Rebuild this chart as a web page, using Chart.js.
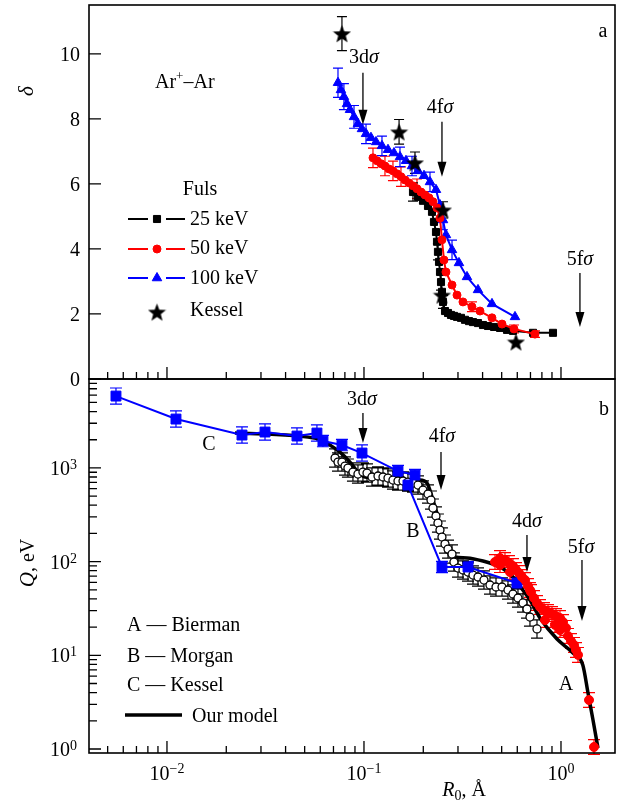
<!DOCTYPE html>
<html>
<head>
<meta charset="utf-8">
<title>Ar+–Ar</title>
<script src="https://cdn.jsdelivr.net/npm/chart.js@4.4.1/dist/chart.umd.min.js"></script>
<style>
  body { margin: 0; background: #fff; }
  #wrap { position: relative; width: 623px; height: 802px; }
  #wrap canvas { position: absolute; left: 0; top: 0; }
</style>
</head>
<body>
<div id="wrap">
  <canvas id="chartA" width="623" height="802"></canvas>
  <canvas id="chartB" width="623" height="802"></canvas>
</div>
<script>
// panel a: delta vs R0, Fuls at 25/50/100 keV and Kessel
const fuls100R = [0.0738, 0.0764, 0.0791, 0.0820, 0.0849, 0.0890, 0.0932, 0.0977, 0.1024, 0.1085, 0.1151, 0.1234, 0.1324, 0.1420, 0.1523, 0.1634, 0.1753, 0.1880, 0.2017, 0.2163, 0.2320, 0.2431, 0.2518, 0.2607, 0.2798, 0.3035, 0.3333, 0.3791, 0.4464, 0.5842];
const fuls100D = [9.11, 8.89, 8.68, 8.46, 8.28, 8.06, 7.85, 7.69, 7.54, 7.42, 7.29, 7.17, 7.05, 6.95, 6.83, 6.71, 6.55, 6.40, 6.25, 6.06, 5.82, 5.35, 4.89, 4.43, 3.97, 3.57, 3.14, 2.74, 2.31, 1.91];
const fuls100Err = [0.45, 0, 0.4, 0, 0, 0.35, 0, 0, 0.3, 0, 0, 0.3, 0, 0, 0.3, 0, 0.3, 0, 0, 0.3, 0, 0, 0.3, 0, 0.3, 0, 0, 0, 0, 0];

const fuls50R = [0.1111, 0.1164, 0.1220, 0.1278, 0.1339, 0.1403, 0.1470, 0.1541, 0.1615, 0.1692, 0.1773, 0.1858, 0.1947, 0.2040, 0.2138, 0.2240, 0.2347, 0.2431, 0.2488, 0.2547, 0.2607, 0.2798, 0.2966, 0.3180, 0.3533, 0.3880, 0.4464, 0.5019, 0.5773, 0.7379];
const fuls50D = [6.80, 6.71, 6.62, 6.55, 6.46, 6.40, 6.31, 6.22, 6.12, 6.03, 5.94, 5.85, 5.75, 5.66, 5.57, 5.45, 5.26, 4.95, 4.28, 3.66, 3.29, 2.89, 2.58, 2.37, 2.22, 2.09, 1.88, 1.69, 1.54, 1.38];
const fuls50Err = [0.3, 0, 0, 0.3, 0, 0.3, 0, 0.3, 0, 0, 0, 0.3, 0, 0, 0, 0, 0, 0, 0, 0, 0, 0, 0, 0, 0.15, 0, 0, 0, 0.12, 0.1];

const fuls25R = [0.1773, 0.1880, 0.1993, 0.2113, 0.2214, 0.2266, 0.2320, 0.2347, 0.2374, 0.2403, 0.2431, 0.2460, 0.2488, 0.2518, 0.2578, 0.2670, 0.2764, 0.2862, 0.2966, 0.3107, 0.3256, 0.3412, 0.3575, 0.3791, 0.4018, 0.4261, 0.4570, 0.4903, 0.5320, 0.5705, 0.7209, 0.9108];
const fuls25D = [5.75, 5.60, 5.48, 5.32, 5.14, 4.83, 4.52, 4.22, 3.91, 3.60, 3.29, 2.98, 2.68, 2.37, 2.09, 2.03, 1.97, 1.94, 1.91, 1.88, 1.82, 1.78, 1.75, 1.72, 1.66, 1.63, 1.60, 1.57, 1.51, 1.48, 1.42, 1.42];
const fuls25Err = [0.28, 0, 0, 0, 0, 0, 0, 0, 0.25, 0, 0, 0.25, 0, 0.2, 0, 0, 0, 0, 0, 0, 0, 0, 0, 0, 0, 0, 0, 0, 0, 0, 0, 0];

const kesselAR = [0.0773, 0.1507, 0.1815, 0.2518, 0.2488, 0.5910];
const kesselAD = [10.62, 7.60, 6.65, 5.20, 2.58, 1.14];
const kesselAErr = [0.52, 0.38, 0.33, 0.25, 0, 0];

// panel b: Q (eV) vs R0
const kesselBR = [0.00551, 0.01111, 0.02403, 0.03145, 0.0457, 0.0577, 0.0619, 0.0773, 0.0977, 0.1488, 0.1815];
const kesselBQ = [5850, 3325, 2245, 2417, 2190, 2357, 1937, 1755, 1442, 927, 840];
const morganR = [0.1672, 0.2488, 0.3373, 0.5979];
const morganQ = [657, 87.6, 87.6, 59.1];

const openR = [0.0713, 0.0738, 0.0773, 0.0801, 0.0829, 0.0879, 0.0932, 0.0988, 0.1036, 0.1098, 0.1178, 0.1249, 0.1324, 0.1403, 0.1488, 0.1578, 0.1672, 0.1773, 0.1880, 0.1993, 0.2113, 0.2188, 0.2240, 0.2320, 0.2374, 0.2431, 0.2488, 0.2578, 0.2670, 0.2798, 0.2862, 0.3000, 0.3180, 0.3373, 0.3575, 0.3791, 0.4065, 0.4360, 0.4679, 0.5019, 0.5383, 0.5705, 0.6049, 0.6413, 0.6719, 0.6958, 0.7554];
const openQ = [1276, 1156, 1156, 1048, 997, 904, 861, 904, 882, 800, 820, 800, 780, 743, 725, 725, 707, 690, 657, 581, 527, 454, 373, 307, 258, 217, 183, 154, 136, 120.5, 99, 85.4, 81.4, 77.4, 71.9, 68.5, 63.6, 56.3, 53.6, 53.6, 49.8, 45.1, 40.9, 36.2, 31.2, 25.6, 19.1];

const biermanR = [0.4624, 0.4903, 0.4903, 0.5196, 0.5445, 0.5509, 0.5705, 0.5910, 0.6121, 0.6339, 0.6568, 0.6802, 0.6958, 0.7044, 0.7295, 0.7554, 0.7824, 0.8199, 0.8295, 0.8592, 0.9001, 0.9322, 0.9432, 0.9884, 0.9884, 1.0238, 1.0602, 1.0851, 1.1240, 1.1641, 1.1917, 1.2200, 1.3877, 1.4710];
const biermanQ = [99, 109.2, 91.9, 104.0, 96.6, 77.4, 89.8, 81.4, 75.6, 68.5, 63.6, 54.9, 49.8, 47.4, 40.9, 36.2, 32.8, 30.4, 23.8, 29.0, 27.6, 21.1, 26.3, 25.0, 18.6, 22.7, 19.6, 16.1, 14.2, 12.9, 11.4, 10.1, 3.33, 1.05];

const modelR = [0.02214, 0.0598, 0.0672, 0.0755, 0.0849, 0.0932, 0.1012, 0.1206, 0.1470, 0.1924, 0.2088, 0.2240, 0.2374, 0.2518, 0.2670, 0.2897, 0.3333, 0.4018, 0.4516, 0.5019, 0.5705, 0.6339, 0.6958, 0.7824, 0.9543, 1.1505, 1.2905, 1.3716, 1.4538, 1.5406];
const modelQ = [2358, 2034, 1755, 1478, 1156, 904, 800, 780, 743, 743, 690, 454, 299, 183, 126.6, 112.0, 109.2, 101.5, 94.3, 85.4, 68.5, 51.0, 38.9, 25.0, 14.9, 10.6, 7.88, 3.96, 2.04, 1.025];

const kesselBErr = [0.22, 0.22, 0.22, 0.22, 0.22, 0.22, 0.15, 0.15, 0.22, 0.15, 0.15];
const morganErr = [0.15, 0.15, 0.15, 0.15];
const openErr = 0.25;
const biermanErr = 0.2;

const FONT = '"Liberation Serif", "Times New Roman", "DejaVu Serif", serif';
const RED = '#ff0000';
const BLUE = '#0000ff';

const pts = (xs, ys) => xs.map((x, i) => ({x, y: ys[i]}));
const font = (size, italic) => (italic ? 'italic ' : '') + size + 'px ' + FONT;

function makeStar(size) {
  const c = document.createElement('canvas');
  c.width = c.height = size;
  const g = c.getContext('2d');
  const R = size / 2, r = R * 0.42;
  g.beginPath();
  for (let i = 0; i < 10; i++) {
    const a = -Math.PI / 2 + i * Math.PI / 5;
    const rr = i % 2 ? r : R;
    g.lineTo(R + rr * Math.cos(a), R + 1 + rr * Math.sin(a));
  }
  g.closePath();
  g.fillStyle = '#000';
  g.fill();
  return c;
}
const starImg = makeStar(19);

function isNice(v) {
  if (v <= 0) return false;
  const m = v / Math.pow(10, Math.floor(Math.log10(v) + 1e-9));
  return Math.abs(m - Math.round(m)) < 1e-6;
}
function isPow10(v) {
  const l = Math.log10(v);
  return Math.abs(l - Math.round(l)) < 1e-6;
}

// parts: [text, size, italic, dy]
function textRun(ctx, x, y, parts, align) {
  let w = 0;
  parts.forEach(p => { ctx.font = font(p[1], p[2]); w += ctx.measureText(p[0]).width; });
  let cx = align === 'center' ? x - w / 2 : align === 'right' ? x - w : x;
  ctx.textAlign = 'left';
  ctx.textBaseline = 'alphabetic';
  ctx.fillStyle = '#000';
  parts.forEach(p => {
    ctx.font = font(p[1], p[2]);
    ctx.fillText(p[0], cx, y + (p[3] || 0));
    cx += ctx.measureText(p[0]).width;
  });
}

function arrow(ctx, x, y1, y2) {
  ctx.save();
  ctx.strokeStyle = '#000';
  ctx.fillStyle = '#000';
  ctx.lineWidth = 1.3;
  ctx.beginPath();
  ctx.moveTo(x, y1);
  ctx.lineTo(x, y2 - 10);
  ctx.stroke();
  ctx.beginPath();
  ctx.moveTo(x - 4.5, y2 - 15);
  ctx.lineTo(x + 4.5, y2 - 15);
  ctx.lineTo(x, y2);
  ctx.closePath();
  ctx.fill();
  ctx.restore();
}

function drawErrorBars(chart) {
  const ctx = chart.ctx, xs = chart.scales.x, ys = chart.scales.y;
  chart.data.datasets.forEach(ds => {
    if (ds.errors === undefined) return;
    ctx.save();
    ctx.strokeStyle = ds.errColor || ds.borderColor;
    ctx.lineWidth = 1.2;
    ctx.beginPath();
    ds.data.forEach((p, i) => {
      const e = typeof ds.errors === 'number' ? ds.errors : ds.errors[i];
      if (!e) return;
      const hi = ds.relErr ? p.y * (1 + e) : p.y + e;
      const lo = ds.relErr ? p.y / (1 + e) : p.y - e;
      const x = xs.getPixelForValue(p.x);
      const y1 = ys.getPixelForValue(hi), y2 = ys.getPixelForValue(lo);
      const c = ds.capHalf || 5;
      ctx.moveTo(x, y1); ctx.lineTo(x, y2);
      ctx.moveTo(x - c, y1); ctx.lineTo(x + c, y1);
      ctx.moveTo(x - c, y2); ctx.lineTo(x + c, y2);
    });
    ctx.stroke();
    ctx.restore();
  });
}

function drawFrame(chart, yLog) {
  const ctx = chart.ctx, a = chart.chartArea, xs = chart.scales.x, ys = chart.scales.y;
  ctx.save();
  ctx.strokeStyle = '#000';
  ctx.lineWidth = 1.6;
  ctx.strokeRect(a.left, a.top, a.right - a.left, a.bottom - a.top);
  ctx.lineWidth = 1.3;
  ctx.beginPath();
  xs.ticks.forEach(t => {
    if (!isNice(t.value)) return;
    const x = xs.getPixelForValue(t.value);
    if (x < a.left + 1 || x > a.right - 1) return;
    ctx.moveTo(x, a.bottom);
    ctx.lineTo(x, a.bottom - (isPow10(t.value) ? 12 : 7));
  });
  ys.ticks.forEach(t => {
    let len;
    if (yLog) {
      if (!isNice(t.value)) return;
      len = isPow10(t.value) ? 12 : 8;
    } else {
      if (t.value % 2 !== 0) return;
      len = 12;
    }
    const y = ys.getPixelForValue(t.value);
    if (y < a.top + 1 || y > a.bottom + 0.5) return;
    ctx.moveTo(a.left, y);
    ctx.lineTo(a.left + len, y);
  });
  ctx.stroke();
  ctx.restore();
}

function note(chart, n) {
  const xs = chart.scales.x, ys = chart.scales.y;
  if (n.text) textRun(chart.ctx, xs.getPixelForValue(n.x), ys.getPixelForValue(n.y), n.text, 'center');
  if (n.arrow) arrow(chart.ctx, xs.getPixelForValue(n.arrow[0]), ys.getPixelForValue(n.arrow[1]), ys.getPixelForValue(n.arrow[2]));
}

const sig = (a) => [[a, 20], ['σ', 20, true]];
const notesA = [
  {text: sig('3d'), x: 0.1, y: 9.72, arrow: [0.0988, 9.42, 7.82]},
  {text: sig('4f'), x: 0.2431, y: 8.18, arrow: [0.2488, 7.91, 6.22]},
  {text: sig('5f'), x: 1.248, y: 3.51, arrow: [1.248, 3.26, 1.60]}
];
const notesB = [
  {text: sig('3d'), x: 0.0977, y: 4690, arrow: [0.0988, 3855, 1844]},
  {text: sig('4f'), x: 0.2488, y: 1890, arrow: [0.2460, 1478, 581]},
  {text: sig('4d'), x: 0.6719, y: 234, arrow: [0.6719, 192, 77.4]},
  {text: sig('5f'), x: 1.264, y: 123.6, arrow: [1.278, 104, 23.2]},
  {text: [['C', 20]], x: 0.01634, y: 1553},
  {text: [['B', 20]], x: 0.1773, y: 183},
  {text: [['A', 20]], x: 1.0602, y: 4.26}
];

function legendMarker(ctx, style, color, x, y, radius) {
  ctx.fillStyle = color;
  ctx.strokeStyle = color;
  ctx.lineWidth = 1;
  Chart.helpers.drawPoint(ctx, {pointStyle: style, radius: radius, borderWidth: 1, rotation: 0}, x, y);
}

function decorateA(chart) {
  const ctx = chart.ctx, a = chart.chartArea, ys = chart.scales.y;
  ctx.save();
  ys.ticks.forEach(t => {
    if (t.value % 2 !== 0) return;
    textRun(ctx, a.left - 9, ys.getPixelForValue(t.value) + 7, [[String(t.value), 20]], 'right');
  });
  notesA.forEach(n => note(chart, n));
  textRun(ctx, 603, 37, [['a', 20]], 'center');
  textRun(ctx, 155, 88, [['Ar', 20], ['+', 13, false, -8], ['–Ar', 20]], 'left');

  ctx.translate(33, 91);
  ctx.rotate(-Math.PI / 2);
  textRun(ctx, 0, 0, [['δ', 21, true]], 'center');
  ctx.setTransform(1, 0, 0, 1, 0, 0);

  textRun(ctx, 200, 195, [['Fuls', 20]], 'center');
  [['25 keV', '#000', 'rect', 5, 219, 225], ['50 keV', RED, 'circle', 4, 249, 254], ['100 keV', BLUE, 'triangle', 5.5, 278, 284]].forEach(r => {
    ctx.strokeStyle = r[1];
    ctx.lineWidth = 2;
    ctx.beginPath();
    ctx.moveTo(128, r[4]); ctx.lineTo(148, r[4]);
    ctx.moveTo(166, r[4]); ctx.lineTo(185, r[4]);
    ctx.stroke();
    legendMarker(ctx, r[2], r[1], 157, r[4], r[3]);
    textRun(ctx, 190, r[5], [[r[0], 20]], 'left');
  });
  ctx.drawImage(starImg, 157 - 9.5, 312 - 9.5);
  textRun(ctx, 190, 316, [['Kessel', 20]], 'left');
  ctx.restore();
}

function decorateB(chart) {
  const ctx = chart.ctx, a = chart.chartArea, xs = chart.scales.x, ys = chart.scales.y;
  ctx.save();
  xs.ticks.forEach(t => {
    if (!isPow10(t.value)) return;
    const e = Math.round(Math.log10(t.value));
    textRun(ctx, xs.getPixelForValue(t.value), a.bottom + 27, [['10', 20], [e < 0 ? '−' + (-e) : String(e), 14, false, -7]], 'center');
  });
  ys.ticks.forEach(t => {
    if (!isPow10(t.value)) return;
    const e = Math.round(Math.log10(t.value));
    textRun(ctx, a.left - 12, ys.getPixelForValue(t.value) + 7, [['10', 20], [String(e), 14, false, -6]], 'right');
  });
  textRun(ctx, 464, 796, [['R', 20, true], ['0', 14, false, 4], [', Å', 20]], 'center');

  notesB.forEach(n => note(chart, n));
  textRun(ctx, 604, 415, [['b', 20]], 'center');

  ctx.translate(34, 563);
  ctx.rotate(-Math.PI / 2);
  textRun(ctx, 0, 0, [['Q', 21, true], [', eV', 20]], 'center');
  ctx.setTransform(1, 0, 0, 1, 0, 0);

  textRun(ctx, 127, 631, [['A — Bierman', 20]], 'left');
  textRun(ctx, 127, 662, [['B — Morgan', 20]], 'left');
  textRun(ctx, 127, 691, [['C — Kessel', 20]], 'left');
  ctx.strokeStyle = '#000';
  ctx.lineWidth = 3.5;
  ctx.beginPath();
  ctx.moveTo(125, 715); ctx.lineTo(182, 715);
  ctx.stroke();
  textRun(ctx, 192, 722, [['Our model', 20]], 'left');
  ctx.restore();
}

function decoPlugin(kind) {
  return {
    id: 'deco' + kind,
    beforeDatasetsDraw(chart) { drawErrorBars(chart); },
    afterDraw(chart) {
      drawFrame(chart, kind === 'b');
      if (kind === 'a') decorateA(chart); else decorateB(chart);
    }
  };
}

const xAxis = (height) => ({
  type: 'logarithmic',
  min: 0.00402,
  max: 1.88,
  ticks: {display: false},
  grid: {display: false, drawTicks: false},
  border: {display: false},
  afterFit: s => { s.height = height; s.paddingLeft = 0; s.paddingRight = 0; }
});

const yAxis = (type, min, max, ticks) => ({
  type: type,
  min: min,
  max: max,
  ticks: Object.assign({display: false}, ticks || {}),
  grid: {display: false, drawTicks: false},
  border: {display: false},
  afterFit: s => { s.width = 89; s.paddingTop = 0; s.paddingBottom = 0; }
});

new Chart(document.getElementById('chartA'), {
  type: 'scatter',
  data: {
    datasets: [
      {label: 'Kessel', data: pts(kesselAR, kesselAD), errors: kesselAErr, pointStyle: starImg, pointRadius: 9, borderColor: '#000', backgroundColor: '#000', order: 0},
      {label: '50 keV', data: pts(fuls50R, fuls50D), errors: fuls50Err, showLine: true, borderColor: RED, backgroundColor: RED, borderWidth: 2, pointStyle: 'circle', pointRadius: 4, pointBorderWidth: 1, order: 1},
      {label: '25 keV', data: pts(fuls25R, fuls25D), errors: fuls25Err, showLine: true, borderColor: '#000', backgroundColor: '#000', borderWidth: 2, pointStyle: 'rect', pointRadius: 5, pointBorderWidth: 1, order: 2},
      {label: '100 keV', data: pts(fuls100R, fuls100D), errors: fuls100Err, showLine: true, borderColor: BLUE, backgroundColor: BLUE, borderWidth: 2, pointStyle: 'triangle', pointRadius: 5.5, pointBorderWidth: 1, order: 3}
    ]
  },
  options: {
    responsive: false,
    animation: false,
    events: [],
    layout: {autoPadding: false, padding: {left: 0, right: 8, top: 5, bottom: 423}},
    plugins: {legend: {display: false}, tooltip: {enabled: false}},
    scales: {
      x: xAxis(0),
      y: yAxis('linear', 0, 11.5, {stepSize: 2, includeBounds: false})
    }
  },
  plugins: [decoPlugin('a')]
});

new Chart(document.getElementById('chartB'), {
  type: 'scatter',
  data: {
    datasets: [
      {label: 'Bierman', data: pts(biermanR, biermanQ), errors: biermanErr, relErr: true, capHalf: 6, borderColor: RED, backgroundColor: RED, pointStyle: 'circle', pointRadius: 4.5, pointBorderWidth: 1, order: 0},
      {label: 'Kessel', data: pts(kesselBR, kesselBQ), errors: kesselBErr, relErr: true, capHalf: 6, showLine: true, borderColor: BLUE, backgroundColor: BLUE, borderWidth: 2, pointStyle: 'rect', pointRadius: 7, pointBorderWidth: 1, order: 1},
      {label: 'Morgan', data: pts(morganR, morganQ), errors: morganErr, relErr: true, capHalf: 6, showLine: true, borderColor: BLUE, backgroundColor: BLUE, borderWidth: 2, pointStyle: 'rect', pointRadius: 7, pointBorderWidth: 1, order: 2},
      {label: 'open', data: pts(openR, openQ), errors: openErr, relErr: true, capHalf: 6, errColor: '#000', borderColor: '#000', backgroundColor: '#fff', pointStyle: 'circle', pointRadius: 4, pointBorderWidth: 1.3, order: 3},
      {label: 'Our model', data: pts(modelR, modelQ), showLine: true, cubicInterpolationMode: 'monotone', borderColor: '#000', borderWidth: 3.5, pointRadius: 0, order: 4}
    ]
  },
  options: {
    responsive: false,
    animation: false,
    events: [],
    layout: {autoPadding: false, padding: {left: 0, right: 8, top: 379, bottom: 0}},
    plugins: {legend: {display: false}, tooltip: {enabled: false}},
    scales: {
      x: xAxis(49),
      y: yAxis('logarithmic', 0.906, 8900)
    }
  },
  plugins: [decoPlugin('b')]
});
</script>
</body>
</html>
